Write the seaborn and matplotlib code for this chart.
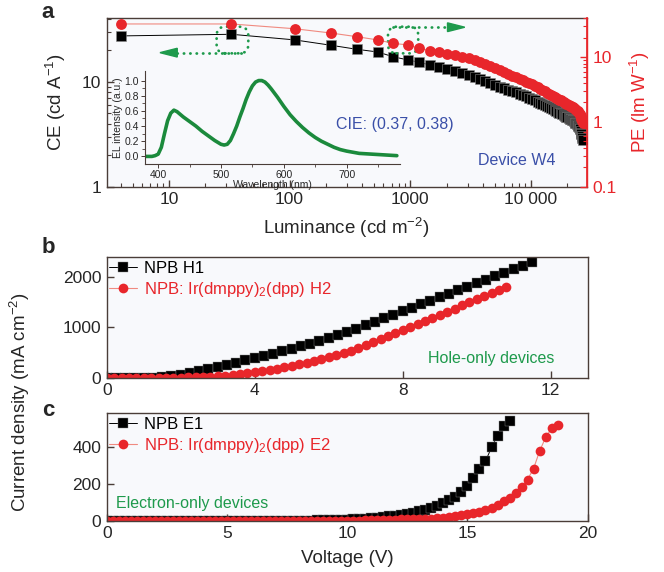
import numpy as np
import pandas as pd
import matplotlib
matplotlib.use("Agg")
import matplotlib.pyplot as plt
import seaborn as sns
from matplotlib.patches import FancyBboxPatch, Polygon
from matplotlib.ticker import FixedLocator, NullFormatter, FixedFormatter

# ---------------- data: panel a ----------------
luminance = [4, 33, 110, 220, 360, 540, 720, 960, 1190, 1460,
             1740, 2030, 2350, 2700, 3050, 3420, 3800, 4200, 4620, 5060,
             5520, 6000, 6500, 7000, 7520, 8050, 8600, 9150, 9700, 10250,
             10800, 11350, 11900, 12450, 13000, 13550, 14100, 14650, 15200, 15700,
             16200, 16700, 17200, 17700, 18200, 18700, 19200, 19650, 20100, 20550,
             21000, 21400, 21800, 22200, 22600, 23000, 23350, 23700, 24050, 24400,
             24700, 25000, 25300, 25550, 25800, 26050, 26250, 26450, 26650, 26800]
ce_values = [27.5, 28.5, 25.2, 22.4, 20.5, 19.3, 17.4, 16.2, 15.4, 14.5,
             13.8, 13.3, 12.7, 12.1, 11.6, 11.1, 10.6, 10.2, 9.75, 9.38,
             9.04, 8.72, 8.43, 8.17, 7.93, 7.69, 7.48, 7.28, 7.10, 6.90,
             6.70, 6.50, 6.31, 6.15, 6.00, 5.86, 5.73, 5.60, 5.47, 5.37,
             5.27, 5.20, 5.09, 5.00, 4.91, 4.82, 4.73, 4.66, 4.59, 4.52,
             4.46, 4.40, 4.34, 4.29, 4.24, 4.17, 4.10, 4.03, 3.96, 3.88,
             3.80, 3.71, 3.62, 3.52, 3.41, 3.29, 3.17, 3.05, 2.93, 2.82]
pe_values = [32.7, 32.7, 27.6, 23.7, 20.8, 18.5, 16.4, 15.5, 13.7, 12.7,
             11.9, 11.3, 10.7, 10.1, 9.6, 9.1, 8.4, 7.76, 7.2, 6.72,
             6.28, 5.89, 5.53, 5.22, 4.94, 4.65, 4.42, 4.21, 4.02, 3.82,
             3.62, 3.43, 3.26, 3.11, 2.97, 2.84, 2.72, 2.61, 2.51, 2.43,
             2.35, 2.29, 2.22, 2.15, 2.09, 2.03, 1.97, 1.92, 1.88, 1.83,
             1.79, 1.75, 1.72, 1.69, 1.65, 1.61, 1.58, 1.54, 1.50, 1.46,
             1.42, 1.37, 1.32, 1.27, 1.22, 1.16, 1.11, 1.06, 1.02, 0.98]

# inset EL spectrum
wavelength = [380, 390, 395, 400, 405, 410, 415, 420, 425, 430, 440, 450, 460, 470, 480,
              490, 500, 505, 510, 515, 520, 525, 530, 535, 540, 545, 550, 555, 560, 565,
              570, 575, 580, 590, 600, 610, 620, 630, 640, 650, 660, 670, 680, 690, 700,
              720, 740, 760, 780]
el_intensity = [0.0, 0.0, 0.01, 0.03, 0.12, 0.30, 0.47, 0.57, 0.61, 0.59, 0.52, 0.46, 0.40, 0.33, 0.27,
                0.21, 0.16, 0.15, 0.16, 0.21, 0.30, 0.40, 0.52, 0.63, 0.75, 0.85, 0.93, 0.98, 1.0, 1.0,
                0.98, 0.94, 0.89, 0.78, 0.66, 0.55, 0.46, 0.38, 0.31, 0.25, 0.20, 0.16, 0.12, 0.09, 0.07,
                0.04, 0.03, 0.02, 0.01]

# ---------------- data: panel b (hole-only) ----------------
volt_h1 = [0, 0.25, 0.5, 0.75, 1, 1.25, 1.5, 1.75, 2, 2.25, 2.5, 2.75, 3, 3.25, 3.5, 3.75,
           4, 4.25, 4.5, 4.75, 5, 5.25, 5.5, 5.75, 6, 6.25, 6.5, 6.75, 7, 7.25, 7.5, 7.75,
           8, 8.25, 8.5, 8.75, 9, 9.25, 9.5, 9.75, 10, 10.25, 10.5, 10.75, 11, 11.25, 11.5]
j_h1 = [0, 0, 0, 0, 1, 3, 12, 32, 62, 100, 140, 180, 220, 260, 301, 343,
        386, 430, 476, 523, 572, 623, 676, 731, 788, 847, 908, 971, 1036, 1105, 1175, 1245,
        1315, 1385, 1455, 1525, 1595, 1665, 1735, 1805, 1875, 1945, 2015, 2085, 2155, 2225, 2295]
volt_h2 = [0, 0.2, 0.4, 0.6, 0.8, 1.0, 1.2, 1.4, 1.6, 1.8, 2.0, 2.2, 2.4, 2.6, 2.8, 3.0,
           3.2, 3.4, 3.6, 3.8, 4.0, 4.2, 4.4, 4.6, 4.8, 5.0, 5.2, 5.4, 5.6, 5.8, 6.0, 6.2,
           6.4, 6.6, 6.8, 7.0, 7.2, 7.4, 7.6, 7.8, 8.0, 8.2, 8.4, 8.6, 8.8, 9.0, 9.2, 9.4,
           9.6, 9.8, 10.0, 10.2, 10.4, 10.6, 10.8]
j_h2 = [0, 0, 0, 0, 0, 0, 0, 0, 1, 1, 2, 4, 7, 12, 19, 28,
        40, 54, 70, 88, 108, 130, 154, 180, 208, 237, 268, 300, 334, 370, 408, 448,
        490, 534, 585, 645, 705, 765, 825, 885, 945, 1006, 1067, 1128, 1189, 1250, 1311, 1372,
        1433, 1494, 1555, 1616, 1677, 1738, 1799]

# ---------------- data: panel c (electron-only) ----------------
volt_e1 = [0, 0.25, 0.5, 0.75, 1, 1.25, 1.5, 1.75, 2, 2.25, 2.5, 2.75, 3, 3.25, 3.5, 3.75,
           4, 4.25, 4.5, 4.75, 5, 5.25, 5.5, 5.75, 6, 6.25, 6.5, 6.75, 7, 7.25, 7.5, 7.75,
           8, 8.25, 8.5, 8.75, 9, 9.25, 9.5, 9.75, 10, 10.25, 10.5, 10.75, 11, 11.25, 11.5, 11.75,
           12, 12.25, 12.5, 12.75, 13, 13.25, 13.5, 13.75, 14, 14.25, 14.5, 14.75, 15, 15.25, 15.5, 15.75,
           16, 16.25, 16.5, 16.75]
j_e1 = [0, 0, 0, 0, 0, 0, 0, 0, 0, 0, 0, 0, 0, 0, 0, 0,
        0, 0, 0, 0, 0, 0, 0, 0, 0, 0, 0, 0, 0, 0, 0, 0,
        0, 1, 1, 2, 2, 3, 4, 5, 6, 7, 9, 11, 13, 16, 19, 23,
        27, 32, 38, 44, 51, 59, 70, 83, 97, 112, 128, 155, 190, 235, 285, 325,
        400, 465, 515, 545]
volt_e2 = [0, 0.25, 0.5, 0.75, 1, 1.25, 1.5, 1.75, 2, 2.25, 2.5, 2.75, 3, 3.25, 3.5, 3.75,
           4, 4.25, 4.5, 4.75, 5, 5.25, 5.5, 5.75, 6, 6.25, 6.5, 6.75, 7, 7.25, 7.5, 7.75,
           8, 8.25, 8.5, 8.75, 9, 9.25, 9.5, 9.75, 10, 10.25, 10.5, 10.75, 11, 11.25, 11.5, 11.75,
           12, 12.25, 12.5, 12.75, 13, 13.25, 13.5, 13.75, 14, 14.25, 14.5, 14.75, 15, 15.25, 15.5, 15.75,
           16, 16.25, 16.5, 16.75, 17, 17.25, 17.5, 17.75, 18, 18.25, 18.5, 18.75]
j_e2 = [0, 0, 0, 0, 0, 0, 0, 0, 0, 0, 0, 0, 0, 0, 0, 0,
        0, 0, 0, 0, 0, 0, 0, 0, 0, 0, 0, 0, 0, 0, 0, 0,
        0, 0, 0, 0, 0, 0, 0, 0, 0, 1, 1, 2, 2, 3, 4, 5,
        6, 7, 8, 9, 10, 11, 12, 14, 17, 20, 24, 29, 36, 43, 50, 60,
        72, 87, 105, 125, 150, 182, 225, 285, 380, 455, 505, 522]

lum_ticks = [10, 100, 1000, 10000]
lum_ticklabels = ["10", "100", "1000", "10 000"]

# ---------------- style ----------------
sns.set_theme(style="ticks")
plt.rcParams['font.family'] = ['Liberation Sans', 'DejaVu Sans']
plt.rcParams['mathtext.fontset'] = 'custom'
plt.rcParams['mathtext.rm'] = 'Liberation Sans'
plt.rcParams['mathtext.it'] = 'Liberation Sans:italic'
plt.rcParams['mathtext.default'] = 'regular'

BLACK = '#000000'
RED = '#e8262b'
RED_LINE = '#f08a80'
GREEN = '#1e9a4c'
DGREEN = '#1b8a3c'
BLUE = '#3a4fa8'
SPINE = '#4a3d38'
FACE = '#f8f9fc'

W, H = 664, 572
fig = plt.figure(figsize=(W / 100, H / 100), dpi=100)


def px_axes(l, t, r, b):
    return fig.add_axes([l / W, 1 - b / H, (r - l) / W, (b - t) / H])


def style_spines(ax):
    for s in ax.spines.values():
        s.set_color(SPINE)
        s.set_linewidth(1.0)
    ax.tick_params(which='both', direction='in', color=SPINE, labelsize=12.5, pad=4)
    ax.tick_params(which='major', length=5, width=1)
    ax.tick_params(which='minor', length=3, width=0.8)


# ================= panel a =================
ax = px_axes(106.7, 18.3, 586.7, 186.7)
ax.set_facecolor(FACE)
df_a = pd.DataFrame({'L': luminance, 'CE': ce_values, 'PE': pe_values})
sns.lineplot(data=df_a, x='L', y='CE', ax=ax, color=BLACK, lw=0.7, marker='s', markersize=6.6,
             markerfacecolor=BLACK, markeredgecolor='#888888', markeredgewidth=0.4, zorder=3)
ax.set_xscale('log')
ax.set_yscale('log')
ax.set_xlim(3.05, 29000)
ax.set_ylim(1, 40.5)
ax.xaxis.set_major_locator(FixedLocator(lum_ticks))
ax.xaxis.set_major_formatter(FixedFormatter(lum_ticklabels))
ax.xaxis.set_minor_locator(FixedLocator([m * 10 ** e for e in range(0, 5) for m in range(2, 10)]))
ax.xaxis.set_minor_formatter(NullFormatter())
ax.yaxis.set_major_locator(FixedLocator([1, 10]))
ax.yaxis.set_major_formatter(FixedFormatter(['1', '10']))
ax.yaxis.set_minor_locator(FixedLocator([2, 3, 4, 5, 6, 7, 8, 9, 20, 30, 40]))
ax.yaxis.set_minor_formatter(NullFormatter())
style_spines(ax)
ax.spines['right'].set_color(RED)
ax.set_xlabel('Luminance (cd m$^{-2}$)', fontsize=13.5, labelpad=6)
ax.set_ylabel('CE (cd A$^{-1}$)', fontsize=13.5, labelpad=10)

ax2 = ax.twinx()
ax2.set_yscale('log')
sns.lineplot(data=df_a, x='L', y='PE', ax=ax2, color=RED_LINE, lw=0.8, marker='o', markersize=7.8,
             markerfacecolor=RED, markeredgecolor=RED, markeredgewidth=0, zorder=3)
ax2.set_ylim(0.1, 40)
ax2.set_xlim(3.05, 29000)
ax2.yaxis.set_major_locator(FixedLocator([0.1, 1, 10]))
ax2.yaxis.set_major_formatter(FixedFormatter(['0.1', '1', '10']))
ax2.yaxis.set_minor_locator(FixedLocator([m * 10 ** e for e in (-1, 0, 1) for m in range(2, 10) if m * 10 ** e <= 40]))
ax2.yaxis.set_minor_formatter(NullFormatter())
for s in ax2.spines.values():
    s.set_visible(False)
ax2.spines['right'].set_visible(True)
ax2.spines['right'].set_color(RED)
ax2.tick_params(which='both', direction='in', color=RED, labelcolor=RED, labelsize=12.5, pad=4)
ax2.tick_params(which='major', length=5, width=1)
ax2.tick_params(which='minor', length=3, width=0.8)
ax2.set_ylabel('PE (lm W$^{-1}$)', fontsize=13.5, color=RED, labelpad=8)
ax2.set_xlabel('')

# green dotted annotations
asp = 480 / 168.4
for (x0, x1) in [(0.229, 0.295), (0.586, 0.649)]:
    p = FancyBboxPatch((x0, 0.792), x1 - x0, 0.158, boxstyle='round,pad=0,rounding_size=0.018',
                       mutation_aspect=asp, transform=ax.transAxes, fill=False, edgecolor=GREEN,
                       linewidth=2.0, linestyle=(0, (0.1, 2.2)), capstyle='round', zorder=5)
    ax.add_patch(p)
ax.plot([0.146, 0.283], [0.796, 0.796], transform=ax.transAxes, color=GREEN, lw=2.0,
        linestyle=(0, (0.1, 2.2)), dash_capstyle='round', zorder=5)
ax.add_patch(Polygon([[0.111, 0.796], [0.147, 0.822], [0.147, 0.770]], closed=True,
                     transform=ax.transAxes, color=GREEN, zorder=5))
ax.plot([0.596, 0.711], [0.947, 0.947], transform=ax.transAxes, color=GREEN, lw=2.0,
        linestyle=(0, (0.1, 2.2)), dash_capstyle='round', zorder=5)
ax.add_patch(Polygon([[0.746, 0.947], [0.710, 0.973], [0.710, 0.921]], closed=True,
                     transform=ax.transAxes, color=GREEN, zorder=5))

ax.text(0.60, 0.372, 'CIE: (0.37, 0.38)', transform=ax.transAxes, color=BLUE, fontsize=11.5,
        ha='center', va='center')
ax.text(0.855, 0.158, 'Device W4', transform=ax.transAxes, color=BLUE, fontsize=11.5,
        ha='center', va='center')

# inset
axi = px_axes(145, 70.7, 400, 164)
axi.set_facecolor('none')
df_el = pd.DataFrame({'wl': wavelength, 'I': el_intensity})
sns.lineplot(data=df_el, x='wl', y='I', ax=axi, color=DGREEN, lw=2.6)
axi.set_xlim(379, 785)
axi.set_ylim(-0.1, 1.13)
axi.spines['top'].set_visible(False)
axi.spines['right'].set_visible(False)
for s in ('left', 'bottom'):
    axi.spines[s].set_color(SPINE)
    axi.spines[s].set_linewidth(0.8)
axi.set_xticks([400, 500, 600, 700])
axi.set_xticks([450, 550, 650, 750], minor=True)
axi.set_yticks([0.0, 0.2, 0.4, 0.6, 0.8, 1.0])
axi.set_yticklabels(['0.0', '0.2', '0.4', '0.6', '0.8', '1.0'])
axi.set_yticks([0.1, 0.3, 0.5, 0.7, 0.9], minor=True)
axi.tick_params(which='both', direction='out', color=SPINE, labelsize=7.5, pad=1.5)
axi.tick_params(which='major', length=3, width=0.7)
axi.tick_params(which='minor', length=2, width=0.6)
axi.set_xlabel('Wavelength (nm)', fontsize=7.5, labelpad=0)
axi.set_ylabel('EL intensity (a.u.)', fontsize=7.5, labelpad=1)

fig.text(48 / W, 1 - 12 / H, 'a', fontsize=16, fontweight='bold', ha='center', va='center')

# ================= panel b =================
axb = px_axes(106.7, 256.7, 587.7, 377.7)
axb.set_facecolor(FACE)
df_h1 = pd.DataFrame({'V': volt_h1, 'J': j_h1})
df_h2 = pd.DataFrame({'V': volt_h2, 'J': j_h2})
sns.lineplot(data=df_h1, x='V', y='J', ax=axb, color=BLACK, lw=0.7, marker='s', markersize=6.6,
             markerfacecolor=BLACK, markeredgecolor='#888888', markeredgewidth=0.3, label='NPB H1')
sns.lineplot(data=df_h2, x='V', y='J', ax=axb, color=RED_LINE, lw=0.8, marker='o', markersize=7.0,
             markerfacecolor=RED, markeredgecolor=RED, markeredgewidth=0,
             label='NPB: Ir(dmppy)$_2$(dpp) H2')
axb.set_xlim(0, 13)
axb.set_ylim(0, 2400)
axb.set_xticks([0, 4, 8, 12])
axb.set_yticks([0, 1000, 2000])
style_spines(axb)
axb.set_xlabel('')
axb.set_ylabel('')
legb = axb.legend(loc='upper left', bbox_to_anchor=(-0.004, 1.0), frameon=False, fontsize=12,
                  handlelength=1.7, handletextpad=0.4, labelspacing=0.25, borderpad=0.25,
                  borderaxespad=0)
for t, c in zip(legb.get_texts(), [BLACK, RED]):
    t.set_color(c)
axb.text(0.799, 0.155, 'Hole-only devices', transform=axb.transAxes, color=GREEN, fontsize=11.5,
         ha='center', va='center')
fig.text(48 / W, 1 - 247 / H, 'b', fontsize=16, fontweight='bold', ha='center', va='center')

# ================= panel c =================
axc = px_axes(106.7, 412.7, 587.7, 520.7)
axc.set_facecolor(FACE)
df_e1 = pd.DataFrame({'V': volt_e1, 'J': j_e1})
df_e2 = pd.DataFrame({'V': volt_e2, 'J': j_e2})
sns.lineplot(data=df_e1, x='V', y='J', ax=axc, color=BLACK, lw=0.7, marker='s', markersize=6.6,
             markerfacecolor=BLACK, markeredgecolor='#888888', markeredgewidth=0.3, label='NPB E1')
sns.lineplot(data=df_e2, x='V', y='J', ax=axc, color=RED_LINE, lw=0.8, marker='o', markersize=7.0,
             markerfacecolor=RED, markeredgecolor=RED, markeredgewidth=0,
             label='NPB: Ir(dmppy)$_2$(dpp) E2')
axc.set_xlim(0, 20)
axc.set_ylim(0, 590)
axc.set_xticks([0, 5, 10, 15, 20])
axc.set_yticks([0, 200, 400])
style_spines(axc)
axc.set_xlabel('Voltage (V)', fontsize=13.5, labelpad=6)
axc.set_ylabel('')
legc = axc.legend(loc='upper left', bbox_to_anchor=(-0.004, 1.0), frameon=False, fontsize=12,
                  handlelength=1.7, handletextpad=0.4, labelspacing=0.25, borderpad=0.25,
                  borderaxespad=0)
for t, c in zip(legc.get_texts(), [BLACK, RED]):
    t.set_color(c)
axc.text(0.0194, 0.155, 'Electron-only devices', transform=axc.transAxes, color=GREEN, fontsize=11.5,
         ha='left', va='center')
fig.text(48 / W, 1 - 411 / H, 'c', fontsize=16, fontweight='bold', ha='center', va='center')

fig.text(20 / W, 1 - 402 / H, 'Current density (mA cm$^{-2}$)', rotation=90, fontsize=13.5,
         ha='center', va='center')

fig.savefig('out.png', dpi=100, facecolor='white')
